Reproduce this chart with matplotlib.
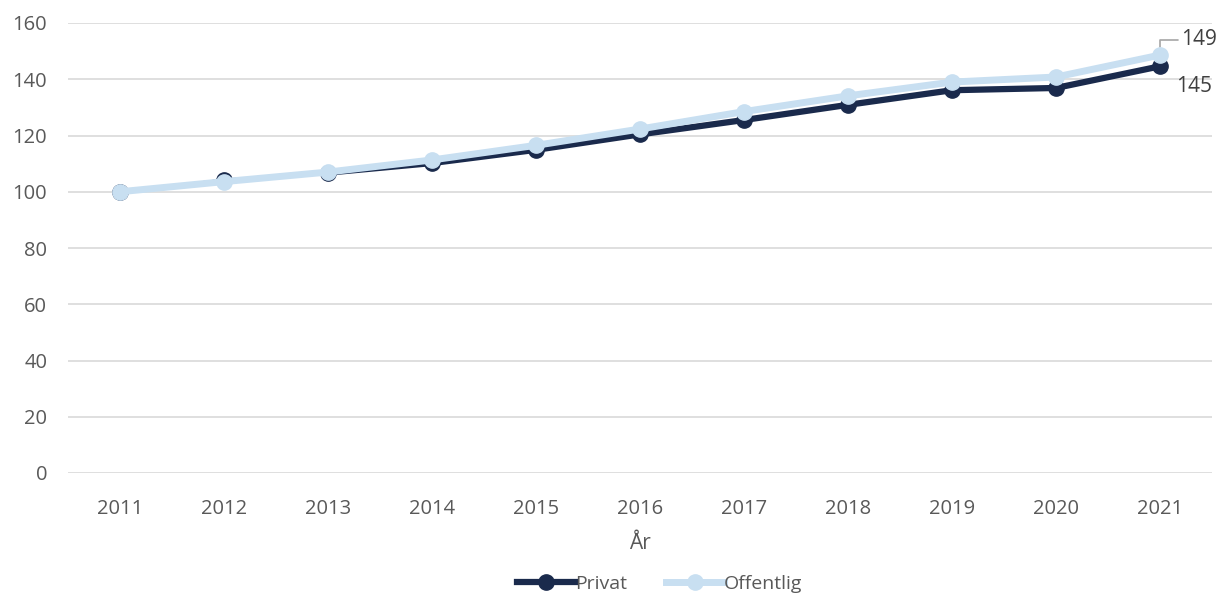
import matplotlib.pyplot as plt
from matplotlib.lines import Line2D

years = [2011, 2012, 2013, 2014, 2015, 2016, 2017, 2018, 2019, 2020, 2021]
privat = [100, 104.3, 106.8, 110.2, 114.9, 120.4, 125.5, 130.9, 136.1, 136.9, 144.6]
offentlig = [100, 103.6, 107.0, 111.3, 116.5, 122.3, 128.5, 134.1, 139.0, 140.8, 148.6]
y_ticks = [0, 20, 40, 60, 80, 100, 120, 140, 160]

dark = '#1a2a4c'
light = '#c8dff1'
txt = '#595959'

plt.rcParams['font.family'] = ['Open Sans', 'DejaVu Sans']

fig = plt.figure(figsize=(12.17, 5.97), dpi=100)
ax = fig.add_axes([68 / 1217, 124 / 597, 1144 / 1217, 450 / 597])

x = list(range(len(years)))

# Privat: thin for the first two segments, thick after that
ax.plot(x[:3], privat[:3], color=dark, lw=1.6, zorder=3)
ax.plot(x[2:], privat[2:], color=dark, lw=4.5, zorder=3)
ax.plot(x, privat, ls='none', marker='o', ms=11, color=dark, zorder=4)

ax.plot(x, offentlig, color=light, lw=5, marker='o', ms=11, zorder=5)

ax.set_xlim(-0.5, len(years) - 0.5)
ax.set_ylim(0, 160)
ax.set_yticks(y_ticks)
ax.set_xticks(x)
ax.set_xticklabels([str(y) for y in years])
ax.grid(axis='y', color='#d9d9d9', lw=1.2)
ax.set_axisbelow(True)
for s in ax.spines.values():
    s.set_visible(False)
ax.tick_params(length=0, labelsize=14.5, colors=txt)
ax.tick_params(axis='x', pad=19)
ax.tick_params(axis='y', pad=15)
ax.set_xlabel('År', fontsize=15, color=txt, labelpad=10)

# end labels
ax.annotate(f'{offentlig[-1]:.0f}', xy=(x[-1], offentlig[-1]), xytext=(x[-1] + 0.2, 154),
            fontsize=15, color='#404040', va='center', ha='left',
            arrowprops=dict(arrowstyle='-', color='#a6a6a6', lw=1.2,
                            connectionstyle='angle,angleA=0,angleB=90,rad=0',
                            shrinkA=0, shrinkB=6))
ax.text(x[-1] + 0.15, 137.5, f'{privat[-1]:.0f}', fontsize=15, color='#404040', va='center', ha='left')

handles = [Line2D([], [], color=dark, lw=4.5, marker='o', ms=11),
           Line2D([], [], color=light, lw=5, marker='o', ms=11)]
fig.legend(handles, ['Privat', 'Offentlig'], loc='center', bbox_to_anchor=(0.542, 0.022),
           ncol=2, frameon=False, fontsize=14, handlelength=3.0, handletextpad=0.0,
           columnspacing=2.0, labelcolor=txt)

fig.savefig('out.png', dpi=100)
